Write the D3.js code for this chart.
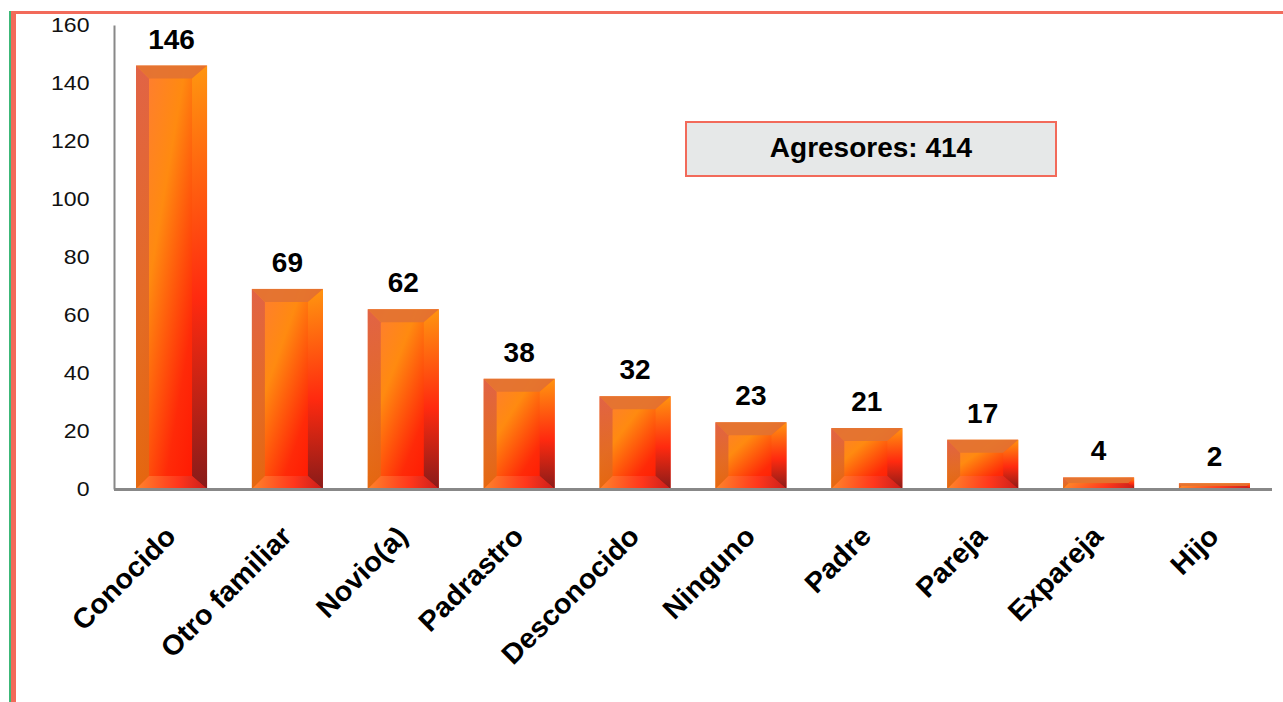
<!DOCTYPE html>
<html>
<head>
<meta charset="utf-8">
<script src="https://cdn.jsdelivr.net/npm/d3@7"></script>
<style>
  body { margin: 0; background: #fff; }
  svg { display: block; font-family: "Liberation Sans", Arial, sans-serif; }
</style>
</head>
<body>
<svg id="chart"></svg>
<script>
// Chart data
const categories = ['Conocido', 'Otro familiar', 'Novio(a)', 'Padrastro', 'Desconocido',
    'Ninguno', 'Padre', 'Pareja', 'Expareja', 'Hijo'];
const values = [146, 69, 62, 38, 32, 23, 21, 17, 4, 2];
const yTicks = [0, 20, 40, 60, 80, 100, 120, 140, 160];
const boxLabel = 'Agresores: 414';

const WIDTH = 1283;
const HEIGHT = 702;

let svg = d3.select('#chart')
    .attr('width', WIDTH)
    .attr('height', HEIGHT);

// gradients for the bevelled bars
let defs = svg.append('defs');
let body = defs.append('linearGradient')
    .attr('id', 'barBody')
    .attr('x1', 0).attr('y1', 0).attr('x2', 1).attr('y2', 1);
body.append('stop').attr('offset', '0%').attr('stop-color', '#ff7a3a');
body.append('stop').attr('offset', '35%').attr('stop-color', '#ff8a10');
body.append('stop').attr('offset', '70%').attr('stop-color', '#ff2a08');
body.append('stop').attr('offset', '100%').attr('stop-color', '#ff1000');

let rightBevel = defs.append('linearGradient')
    .attr('id', 'rightBevel')
    .attr('x1', 0).attr('y1', 0).attr('x2', 0).attr('y2', 1);
rightBevel.append('stop').attr('offset', '0%').attr('stop-color', '#ff9a10');
rightBevel.append('stop').attr('offset', '55%').attr('stop-color', '#ff2a10');
rightBevel.append('stop').attr('offset', '100%').attr('stop-color', '#7a1c1c');

let leftBevel = defs.append('linearGradient')
    .attr('id', 'leftBevel')
    .attr('x1', 0).attr('y1', 0).attr('x2', 0).attr('y2', 1);
leftBevel.append('stop').attr('offset', '0%').attr('stop-color', '#dc5f48');
leftBevel.append('stop').attr('offset', '100%').attr('stop-color', '#e06a10');

let bottomBevel = defs.append('linearGradient')
    .attr('id', 'bottomBevel')
    .attr('x1', 0).attr('y1', 0).attr('x2', 1).attr('y2', 0);
bottomBevel.append('stop').attr('offset', '0%').attr('stop-color', '#ff8a30');
bottomBevel.append('stop').attr('offset', '60%').attr('stop-color', '#ff3a20');
bottomBevel.append('stop').attr('offset', '100%').attr('stop-color', '#c02020');

// frame lines
svg.append('rect').attr('x', 9).attr('y', 11).attr('width', 2).attr('height', HEIGHT - 11).attr('fill', '#3cb878');
svg.append('rect').attr('x', 11).attr('y', 11).attr('width', 5).attr('height', HEIGHT - 11).attr('fill', '#f26a5a');
svg.append('rect').attr('x', 11).attr('y', 11).attr('width', WIDTH - 11).attr('height', 3).attr('fill', '#f26a5a');

// scales
const plotLeft = 114, plotRight = 1272, plotTop = 25, plotBottom = 489;

let xScale = d3.scaleBand()
    .domain(categories)
    .range([plotLeft, plotRight])
    .paddingInner(0.387)
    .paddingOuter(0.19);

let yScale = d3.scaleLinear()
    .domain([0, 160])
    .range([plotBottom, plotTop]);

// axes
let yAxis = d3.axisLeft(yScale)
    .tickValues(yTicks)
    .tickSize(0)
    .tickPadding(24);

let gy = svg.append('g')
    .attr('transform', `translate(${plotLeft}, 0)`)
    .call(yAxis);
gy.select('.domain').attr('stroke', '#888').attr('stroke-width', 2);
gy.selectAll('text')
    .attr('fill', '#111')
    .attr('x', 0)
    .attr('transform', 'translate(-24.5, 0) scale(1.1, 1)')
    .style('font-size', '21px');

// bars
let bars = svg.selectAll('.bar')
    .data(values)
    .enter().append('g')
    .attr('class', 'bar');

bars.each(function(d, i) {
    let g = d3.select(this);
    let x = xScale(categories[i]);
    let w = xScale.bandwidth();
    let y = yScale(d);
    let h = plotBottom - y;
    let b = Math.min(13, h / 2);
    let br = Math.min(15, h / 2);

    g.append('rect')
        .attr('x', x).attr('y', y)
        .attr('width', w).attr('height', h)
        .attr('fill', 'url(#barBody)');

    // left bevel
    g.append('path')
        .attr('d', `M${x},${y} L${x + b},${y + b} L${x + b},${plotBottom - b} L${x},${plotBottom} Z`)
        .attr('fill', 'url(#leftBevel)')
        .attr('opacity', 0.85);
    // top bevel
    g.append('path')
        .attr('d', `M${x},${y} L${x + w},${y} L${x + w - br},${y + b} L${x + b},${y + b} Z`)
        .attr('fill', '#e27232')
        .attr('opacity', 0.9);
    // right bevel
    g.append('path')
        .attr('d', `M${x + w},${y} L${x + w},${plotBottom} L${x + w - br},${plotBottom - b} L${x + w - br},${y + b} Z`)
        .attr('fill', 'url(#rightBevel)')
        .attr('opacity', 0.9);
    // bottom bevel
    g.append('path')
        .attr('d', `M${x},${plotBottom} L${x + b},${plotBottom - b} L${x + w - br},${plotBottom - b} L${x + w},${plotBottom} Z`)
        .attr('fill', 'url(#bottomBevel)')
        .attr('opacity', 0.85);
});

// value labels
svg.selectAll('.value-label')
    .data(values)
    .enter().append('text')
    .attr('class', 'value-label')
    .attr('x', (d, i) => xScale(categories[i]) + xScale.bandwidth() / 2)
    .attr('y', d => yScale(d) - 17)
    .attr('text-anchor', 'middle')
    .style('font-size', '28px')
    .style('font-weight', 'bold')
    .attr('fill', '#000')
    .text(d => d);

// bottom axis with rotated category labels
let xAxis = d3.axisBottom(xScale)
    .tickSize(0)
    .tickSizeOuter(0)
    .tickPadding(0);

let gx = svg.append('g')
    .attr('transform', `translate(0, ${plotBottom})`)
    .call(xAxis);
gx.select('.domain')
    .attr('stroke', '#888')
    .attr('stroke-width', 3)
    .attr('d', `M${plotLeft},0.5H${plotRight}`);
gx.selectAll('text')
    .attr('fill', '#000')
    .style('font-size', '28px')
    .style('font-weight', 'bold')
    .attr('text-anchor', 'end')
    .attr('dy', null)
    .attr('y', 0)
    .attr('transform', 'translate(6, 49) rotate(-45) scale(1.03, 1)');

// total box
let box = svg.append('g');
box.append('rect')
    .attr('x', 686).attr('y', 122)
    .attr('width', 370).attr('height', 54)
    .attr('fill', '#e6e8e8')
    .attr('stroke', '#f26a5a')
    .attr('stroke-width', 2);
box.append('text')
    .attr('x', 871).attr('y', 157)
    .attr('text-anchor', 'middle')
    .style('font-size', '28px')
    .style('font-weight', 'bold')
    .attr('fill', '#000')
    .text(boxLabel);
</script>
</body>
</html>
